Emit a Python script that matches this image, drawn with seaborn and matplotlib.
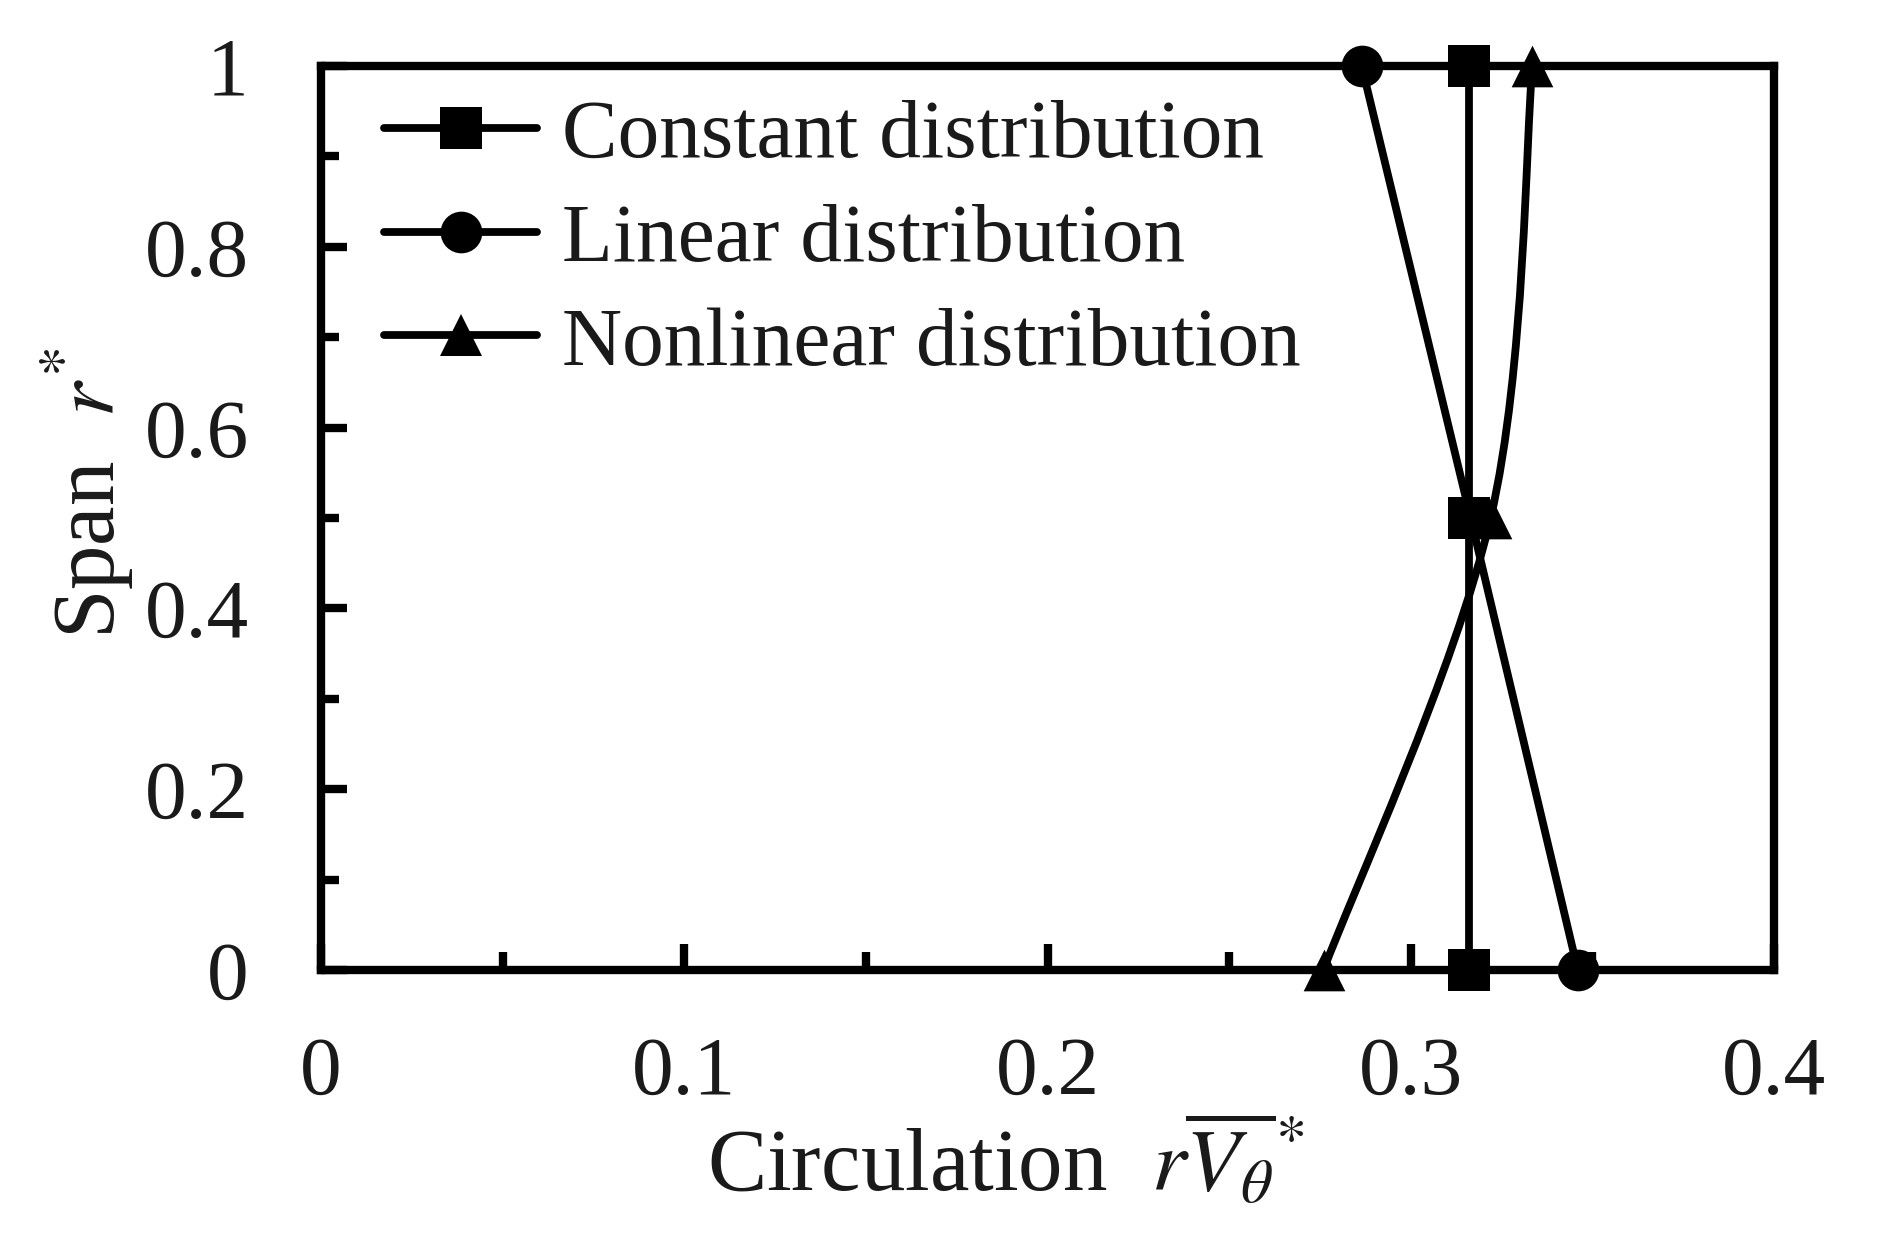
import numpy as np
import pandas as pd
import matplotlib
matplotlib.use("Agg")
import matplotlib.pyplot as plt
import seaborn as sns
from matplotlib.path import Path
from matplotlib.patches import PathPatch
from matplotlib.lines import Line2D
from matplotlib.ticker import FixedLocator, MultipleLocator

# ---------------- data ----------------
span = [0.0, 0.5, 1.0]
constant = [0.316, 0.316, 0.316]
linear = [0.346, 0.3165, 0.2865]
nonlinear = [0.276, 0.322, 0.3335]
series_names = ["Constant distribution", "Linear distribution", "Nonlinear distribution"]
x_ticks = [0, 0.1, 0.2, 0.3, 0.4]
x_tick_labels = ["0", "0.1", "0.2", "0.3", "0.4"]
y_ticks = [0, 0.2, 0.4, 0.6, 0.8, 1.0]
y_tick_labels = ["0", "0.2", "0.4", "0.6", "0.8", "1"]

# ---------------- style ----------------
sns.set_theme(style="white")
plt.rcParams["font.family"] = ["Liberation Serif", "DejaVu Serif"]
plt.rcParams["mathtext.fontset"] = "stix"

TEXT = "#1a1a1a"
LW = 2.8
MS = 15
FS = 30

fig = plt.figure(figsize=(9.455, 6.26), dpi=200)
ax = fig.add_axes([0.1698, 0.2252, 0.7683, 0.7221])

# nonlinear: smooth (Excel-style) curve through its points + triangle markers
def smooth_path(xs, ys):
    pts = np.column_stack([xs, ys]).astype(float)
    n = len(pts)
    verts = [pts[0]]
    codes = [Path.MOVETO]
    for i in range(n - 1):
        p0 = pts[i - 1] if i > 0 else pts[i]
        p1 = pts[i]
        p2 = pts[i + 1]
        p3 = pts[i + 2] if i + 2 < n else pts[i + 1]
        c1 = p1 + (p2 - p0) / 6.0
        c2 = p2 - (p3 - p1) / 6.0
        verts += [c1, c2, p2]
        codes += [Path.CURVE4] * 3
    return Path(verts, codes)

curve = PathPatch(smooth_path(nonlinear, span), fill=False, edgecolor="black",
                  lw=LW, transform=ax.transData, clip_on=False, zorder=3)
ax.add_patch(curve)
sns.scatterplot(x=nonlinear, y=span, marker="^", s=MS ** 2, color="black",
                linewidth=0, ax=ax, clip_on=False, zorder=4, legend=False)

sns.lineplot(x=linear, y=span, sort=False, estimator=None, color="black", lw=LW,
             marker="o", markersize=MS, markeredgewidth=0, ax=ax,
             clip_on=False, zorder=5, legend=False)
sns.lineplot(x=constant, y=span, sort=False, estimator=None, color="black", lw=LW,
             marker="s", markersize=MS, markeredgewidth=0, ax=ax,
             clip_on=False, zorder=6, legend=False)

# ---------------- axes ----------------
ax.set_xlim(0, 0.4)
ax.set_ylim(0, 1)
ax.xaxis.set_major_locator(FixedLocator(x_ticks))
ax.set_xticklabels(x_tick_labels)
ax.yaxis.set_major_locator(FixedLocator(y_ticks))
ax.set_yticklabels(y_tick_labels)
ax.xaxis.set_minor_locator(MultipleLocator(0.05))
ax.yaxis.set_minor_locator(MultipleLocator(0.1))
ax.tick_params(which="both", direction="in", bottom=True, left=True, top=False,
               right=False, width=3.0, color="black", labelsize=FS,
               labelcolor=TEXT)
ax.tick_params(which="major", length=9.4)
ax.tick_params(which="minor", length=6.5)
ax.tick_params(axis="x", which="major", pad=24)
ax.tick_params(axis="y", which="major", pad=26)
for sp in ax.spines.values():
    sp.set_visible(True)
    sp.set_color("black")
    sp.set_linewidth(3.0)
    sp.set_zorder(2)

ax.set_xlabel(r"Circulation  $r\overline{V_{\theta}}^{*}$", fontsize=32, color=TEXT)
ax.set_ylabel(r"Span  $r^{*}$", fontsize=32, color=TEXT)
ax.xaxis.set_label_coords(0.471, -0.16)
ax.yaxis.set_label_coords(-0.127, 0.527)

handles = [
    Line2D([0], [0], color="black", lw=LW, marker="s", markersize=MS, markeredgewidth=0),
    Line2D([0], [0], color="black", lw=LW, marker="o", markersize=MS, markeredgewidth=0),
    Line2D([0], [0], color="black", lw=LW, marker="^", markersize=MS, markeredgewidth=0),
]
leg = ax.legend(handles, series_names, loc="upper left", bbox_to_anchor=(0.0434, 0.964),
                frameon=False, fontsize=FS, handlelength=1.84, handletextpad=0.29,
                labelspacing=0.33, borderpad=0, borderaxespad=0)
for t in leg.get_texts():
    t.set_color(TEXT)

fig.savefig("out.png", dpi=200)
